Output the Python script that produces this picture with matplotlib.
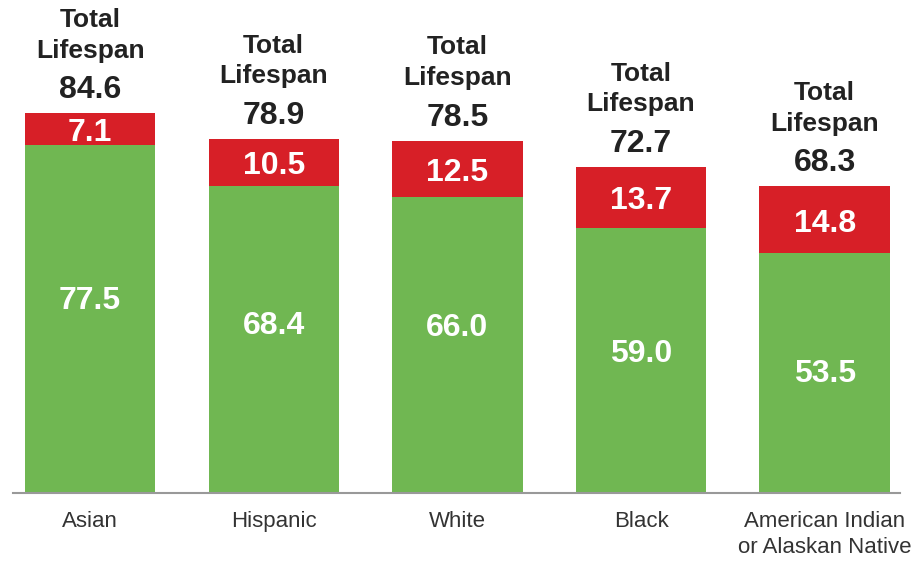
import matplotlib.pyplot as plt

# lifespan by group: healthy years (green) + years in poor health (red)
grupos = ["Asian", "Hispanic", "White", "Black", "American Indian\nor Alaskan Native"]
anos_saudaveis = [77.5, 68.4, 66.0, 59.0, 53.5]
anos_doentes = [7.1, 10.5, 12.5, 13.7, 14.8]
total = [84.6, 78.9, 78.5, 72.7, 68.3]

verde = "#70b752"
vermelho = "#d71f27"
fonte = ["Liberation Sans", "DejaVu Sans"]

fig = plt.figure(figsize=(9.24, 5.62), dpi=100)
ax = fig.add_axes([0.014, 0.1228, 0.96, 0.8772])

x = range(len(grupos))
largura = 0.71
ax.bar(x, anos_saudaveis, width=largura, color=verde)
ax.bar(x, anos_doentes, width=largura, bottom=anos_saudaveis, color=vermelho)

for i in x:
    topo = anos_saudaveis[i] + anos_doentes[i]
    # value inside green segment (placed a fixed distance below the bar top)
    ax.annotate(f"{anos_saudaveis[i]:.1f}", (i, topo), xytext=(0, -135), textcoords="offset points",
                ha="center", va="center", color="white", fontsize=23, fontweight="bold", family=fonte)
    # value inside red segment, a little below its middle
    ax.annotate(f"{anos_doentes[i]:.1f}", (i, anos_saudaveis[i] + anos_doentes[i] / 2),
                xytext=(0, -3), textcoords="offset points", ha="center", va="center",
                color="white", fontsize=23, fontweight="bold", family=fonte)
    # header above bar
    ax.annotate(f"{total[i]:.1f}", (i, topo), xytext=(0, 16.5), textcoords="offset points",
                ha="center", va="center", fontsize=23, fontweight="bold", color="#222222",
                family=fonte, annotation_clip=False)
    ax.annotate("Lifespan", (i, topo), xytext=(0, 45), textcoords="offset points",
                ha="center", va="center", fontsize=19, fontweight="bold", color="#222222",
                family=fonte, annotation_clip=False)
    ax.annotate("Total", (i, topo), xytext=(0, 67), textcoords="offset points",
                ha="center", va="center", fontsize=19, fontweight="bold", color="#222222",
                family=fonte, annotation_clip=False)

ax.set_xlim(-0.42, 4.41)
ax.set_ylim(0, 109.8)
ax.set_xticks(list(x))
ax.set_xticklabels(grupos, fontsize=16, color="#333333", family=fonte, linespacing=1.3)
ax.tick_params(axis="x", length=0, pad=13)
ax.set_yticks([])
for lado in ["top", "right", "left"]:
    ax.spines[lado].set_visible(False)
ax.spines["bottom"].set_color("#999999")
ax.spines["bottom"].set_linewidth(1.5)

fig.savefig("out.png", dpi=100)
